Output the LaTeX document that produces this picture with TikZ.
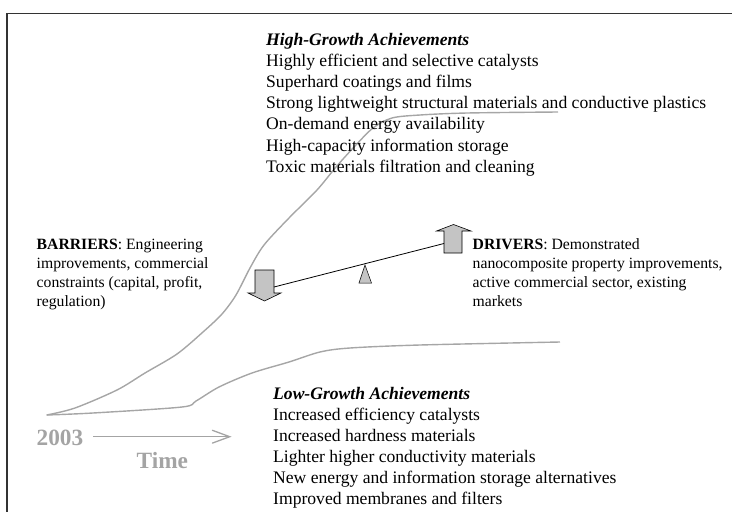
\documentclass[tikz,border=0pt]{standalone}
\usepackage{fontspec}
\setmainfont{Liberation Serif}
\definecolor{curvegray}{HTML}{A6A6A6}
\definecolor{timegray}{HTML}{A4A4A4}
\definecolor{blockgray}{HTML}{C4C4C4}
\definecolor{framegray}{HTML}{333333}
\begin{document}
\begin{tikzpicture}[x=1pt,y=-1pt,
  listtext/.style={anchor=base west,inner sep=0pt,font=\fontsize{17.6}{20}\selectfont},
  sidetext/.style={anchor=base west,inner sep=0pt,font=\fontsize{15.7}{18}\selectfont},
  growth/.style={draw=curvegray,line width=1.4pt,line join=round},
  blockarrow/.style={draw=black,line width=0.6pt,fill=blockgray},
  timelabel/.style={anchor=base west,inner sep=0pt,text=timegray,font=\fontsize{23.3}{26}\selectfont\bfseries}]
\useasboundingbox (0,0) rectangle (732,512);
% frame
\draw[framegray,line width=1.3pt] (7,520) -- (7,13.5) -- (740,13.5);
% growth curves
\coordinate (origin) at (46.7,415);
\draw[growth] plot[smooth,tension=0.5] coordinates {(origin) (75,408) (117,390) (145,373)
  (177,354) (203,332) (222,314) (236,295) (250,268) (264,245) (289,218) (317,190)
  (336,167) (355,146) (373,128) (392,118) (420,115) (467,113) (558,112)};
\draw[growth] plot[smooth,tension=0.5] coordinates {(origin) (93,413) (182,407) (196,401)
  (219,387) (252,373) (289,362) (320,352) (350,348) (420,345) (560,342)};
% high growth list
\node[listtext] (h0) at (266,45) {\textbf{\textit{High-Growth Achievements}}};
\foreach \t [count=\i] in {Highly efficient and selective catalysts,
  Superhard coatings and films,
  Strong lightweight structural materials and conductive plastics,
  On{-}demand energy availability,
  High-capacity information storage,
  Toxic materials filtration and cleaning}
  \node[listtext] (h\i) at (266,45+21.2*\i) {\t};
% low growth list
\node[listtext] (l0) at (273,399) {\textbf{\textit{Low-Growth Achievements}}};
\foreach \t [count=\i] in {Increased efficiency catalysts,
  Increased hardness materials,
  Lighter higher conductivity materials,
  New energy and information storage alternatives,
  Improved membranes and filters}
  \node[listtext] (l\i) at (273,399+21.1*\i) {\t};
% barriers
\node[sidetext] (b0) at (36.5,249) {\textbf{BARRIERS}: Engineering};
\node[sidetext] (b1) at (36.5,268) {improvements, commercial};
\node[sidetext] (b2) at (36.5,287) {constraints (capital, profit,};
\node[sidetext] (b3) at (36.5,306) {regulation)};
% drivers
\node[sidetext] (d0) at (472.5,249) {\textbf{DRIVERS}: Demonstrated};
\node[sidetext] (d1) at (472.5,268) {nanocomposite property improvements,};
\node[sidetext] (d2) at (472.5,287) {active commercial sector, existing};
\node[sidetext] (d3) at (472.5,306) {markets};
% block arrows
\draw[blockarrow] (255,270) -- (274,270) -- (274,293) -- (281,293) -- (264.5,301)
  -- (248,293) -- (255,293) -- cycle;
\coordinate (beamL) at (274,287);
\draw[blockarrow] (444,253) -- (462,253) -- (462,231) -- (471,231) -- (453.5,224.5)
  -- (436.5,231) -- (444,231) -- cycle;
\coordinate (beamR) at (444,243.5);
% fulcrum
\draw[blockarrow,line width=0.5pt] (365,265) -- (371.5,283) -- (359,283) -- cycle;
\draw[line width=0.8pt] (beamL) -- (beamR);
% time axis
\node[timelabel] (year) at (36.5,445) {2003};
\node[timelabel] (time) at (136.5,468) {Time};
\coordinate (tstart) at (93.4,436.7);
\coordinate (tend) at (229.7,436.7);
\draw[timegray,line width=1.3pt] (tstart) -- (tend);
\draw[timegray,line width=1.3pt,line cap=round,line join=miter] (212.4,430.3) -- (tend) -- (212.4,443.1);
\end{tikzpicture}
\end{document}
